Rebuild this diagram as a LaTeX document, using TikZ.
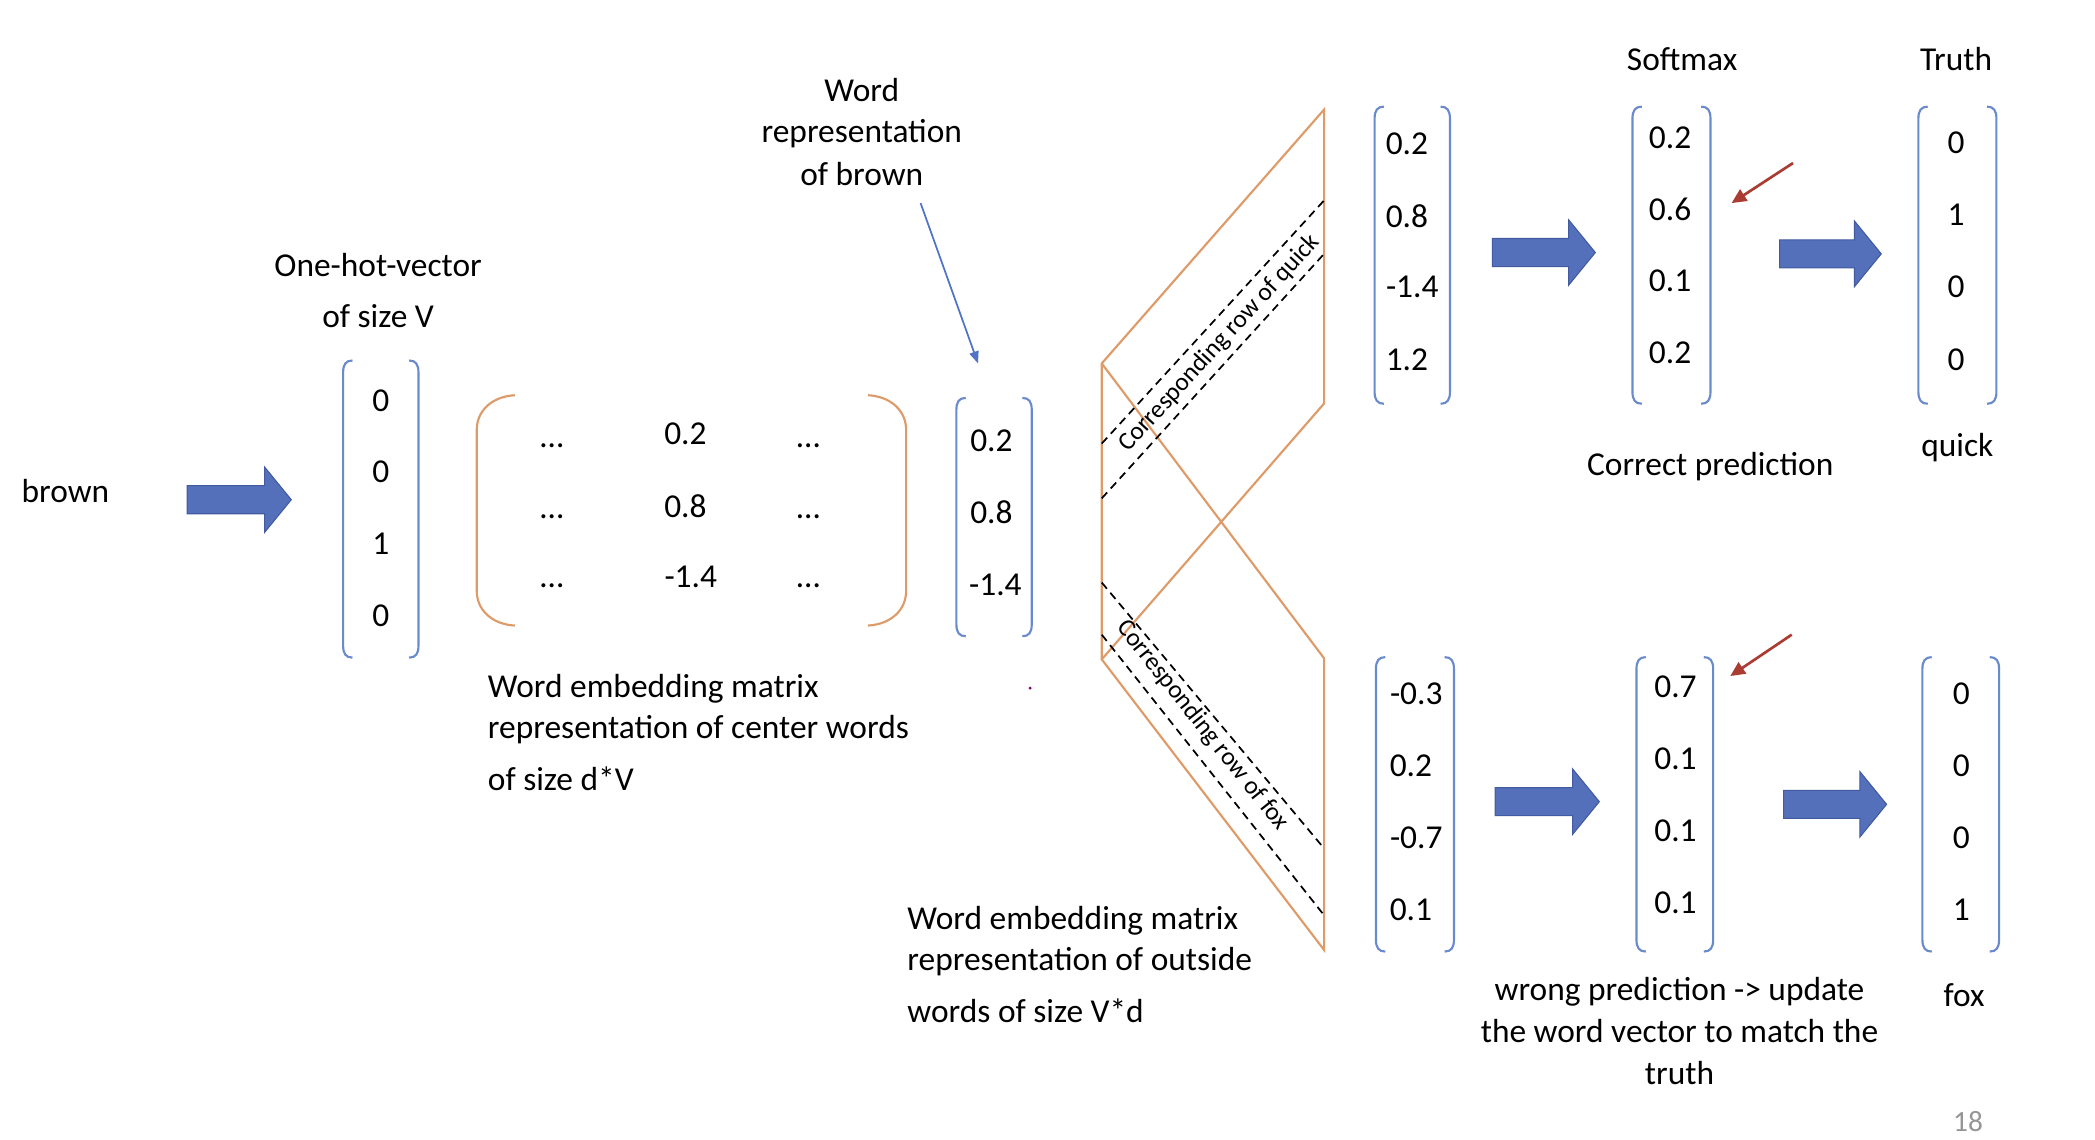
\documentclass[tikz,border=0pt]{standalone}
\usepackage{fontspec}
\setmainfont{Carlito}
\usetikzlibrary{arrows.meta,calc}
\definecolor{vecblue}{RGB}{106,138,206}
\definecolor{matorange}{RGB}{222,155,105}
\definecolor{arrfill}{RGB}{84,112,186}
\definecolor{arrdraw}{RGB}{65,90,160}
\definecolor{redarr}{RGB}{170,60,50}
\definecolor{linkblue}{RGB}{80,115,200}
\definecolor{pagegray}{RGB}{150,150,150}
\newcommand\VBrackets[1]{%
  \draw[vecline] ($(#1.north west)+(7,0)$) .. controls ($(#1.north west)+(2,0)$) and ($(#1.north west)+(0,3)$) .. ($(#1.north west)+(0,9)$)
    -- ($(#1.south west)+(0,-9)$) .. controls ($(#1.south west)+(0,-3)$) and ($(#1.south west)+(2,0)$) .. ($(#1.south west)+(7,0)$);
  \draw[vecline] ($(#1.north east)+(-7,0)$) .. controls ($(#1.north east)+(-2,0)$) and ($(#1.north east)+(0,3)$) .. ($(#1.north east)+(0,9)$)
    -- ($(#1.south east)+(0,-9)$) .. controls ($(#1.south east)+(0,-3)$) and ($(#1.south east)+(-2,0)$) .. ($(#1.south east)+(-7,0)$);}
\newcommand\BlockArrow[3]{%
  \filldraw[blockarrow] (#1,{#3-10.5}) -- ({#2-20},{#3-10.5}) -- ({#2-20},{#3-24.5}) -- (#2,#3)
    -- ({#2-20},{#3+24.5}) -- ({#2-20},{#3+10.5}) -- (#1,{#3+10.5}) -- cycle;}
\begin{document}
\begin{tikzpicture}[x=1pt,y=-1pt,
  every node/.style={font=\fontsize{25}{30}\selectfont, inner sep=0pt},
  vbox/.style={draw=none, minimum width=56, minimum height=222},
  vecline/.style={draw=vecblue, line width=1.6pt},
  matline/.style={draw=matorange, line width=1.6pt, line join=miter},
  dashline/.style={draw=black, line width=1.3pt, dash pattern=on 6pt off 4pt},
  blockarrow/.style={fill=arrfill, draw=arrdraw, line width=0.8pt},
  lbl/.style={anchor=base},
  lblw/.style={anchor=base west},
  rowlbl/.style={font=\fontsize{19}{22}\selectfont},
  linkarrow/.style={draw=linkblue, line width=1.3pt, -{Triangle[length=9pt,width=7pt]}},
  redarrow/.style={draw=redarr, line width=2pt, -{Triangle[length=11pt,width=10pt]}}]
\useasboundingbox (0,0) rectangle (1568,853);

% ---------- left part ----------
\node[lblw] (brown) at (16,376) {brown};
\BlockArrow{140}{218}{374}

\node[lbl] (ohA) at (283,207) {One-hot-vector};
\node[lbl] (ohB) at (283,245) {of size V};
\node[vbox] (oh) at (285,381) {};
\VBrackets{oh}
\node[lbl] (oh1) at (285,308) {0};
\node[lbl] (oh2) at (285,361) {0};
\node[lbl] (oh3) at (285,415) {1};
\node[lbl] (oh4) at (285,469) {0};

% ---------- center-word matrix ----------
\node[draw=none, minimum width=321, minimum height=172] (M) at (517.5,382) {};
\draw[matline] ($(M.north west)+(28.5,0)$) .. controls ($(M.north west)+(11,1)$) and ($(M.north west)+(0,12)$) .. ($(M.north west)+(0,26)$)
  -- ($(M.south west)+(0,-26)$) .. controls ($(M.south west)+(0,-12)$) and ($(M.south west)+(11,-1)$) .. ($(M.south west)+(28.5,0)$);
\draw[matline] ($(M.north east)+(-28.5,0)$) .. controls ($(M.north east)+(-11,1)$) and ($(M.north east)+(0,12)$) .. ($(M.north east)+(0,26)$)
  -- ($(M.south east)+(0,-26)$) .. controls ($(M.south east)+(0,-12)$) and ($(M.south east)+(-11,-1)$) .. ($(M.south east)+(-28.5,0)$);
\node[lbl] (m11) at (413,335) {…};
\node[lbl] (m21) at (413,388) {…};
\node[lbl] (m31) at (413,440) {…};
\node[lbl] (m12) at (513,333) {0.2};
\node[lbl] (m22) at (513,387) {0.8};
\node[lbl] (m32) at (517,440) {-1.4};
\node[lbl] (m13) at (605,335) {…};
\node[lbl] (m23) at (605,388) {…};
\node[lbl] (m33) at (605,440) {…};

\node[lblw] (ceA) at (365,522) {Word embedding matrix};
\node[lblw] (ceB) at (365,553) {representation of center words};
\node[lblw] (ceC) at (365,592) {of size d*V};

% ---------- word vector of brown ----------
\node[lbl] (wrA) at (645,76) {Word};
\node[lbl] (wrB) at (645,107) {representation};
\node[lbl] (wrC) at (645,139) {of brown};
\node[vbox, minimum height=178] (wv) at (744,387) {};
\VBrackets{wv}
\node[lbl] (wv1) at (742,338) {0.2};
\node[lbl] (wv2) at (742,392) {0.8};
\node[lbl] (wv3) at (745,446) {-1.4};
\coordinate (wrs) at (689,152);
\coordinate (wve) at (732,272);
\draw[linkarrow] (wrs) -- (wve);
\fill[violet] (771,515) circle (1.2pt);

% ---------- outside-word matrix ----------
\coordinate (PL) at (824.6,272);
\coordinate (PTR) at (991,82);
\coordinate (PRB) at (991,302);
\coordinate (PLB) at (824.6,493.5);
\coordinate (QTR) at (991,492.7);
\coordinate (QBR) at (991,711);
\draw[matline] (PLB) -- (PL) -- (PTR) -- (PRB) -- (PLB) -- (QBR) -- (QTR) -- (PL);

\coordinate (dq1a) at (824.6,332);
\coordinate (dq1b) at (991,150);
\coordinate (dq2a) at (824.6,373);
\coordinate (dq2b) at (991,190);
\draw[dashline] (dq1a) -- (dq1b);
\draw[dashline] (dq2a) -- (dq2b);
\node[rowlbl, rotate=47.5] (rq) at (913,257) {Corresponding row of quick};

\coordinate (df1a) at (824.6,436);
\coordinate (df1b) at (991,635);
\coordinate (df2a) at (824.6,475);
\coordinate (df2b) at (991,685);
\draw[dashline] (df1a) -- (df1b);
\draw[dashline] (df2a) -- (df2b);
\node[rowlbl, rotate=-51.5] (rf) at (900,543) {Corresponding row of fox};

\node[lblw] (owA) at (679,696) {Word embedding matrix};
\node[lblw] (owB) at (679,726) {representation of outside};
\node[lblw] (owC) at (679,765) {words of size V*d};

% ---------- upper row: quick ----------
\node[vbox] (u1) at (1057,191) {};
\VBrackets{u1}
\node[lbl] (u11) at (1053,116) {0.2};
\node[lbl] (u12) at (1053,170) {0.8};
\node[lbl] (u13) at (1057,223) {-1.4};
\node[lbl] (u14) at (1053,277) {1.2};
\BlockArrow{1117}{1194}{189}

\node[lbl] (smA) at (1259,53) {Softmax};
\node[vbox, minimum width=58] (us) at (1251,191) {};
\VBrackets{us}
\node[lbl] (us1) at (1250,111) {0.2};
\node[lbl] (us2) at (1250,165) {0.6};
\node[lbl] (us3) at (1250,218) {0.1};
\node[lbl] (us4) at (1250,272) {0.2};
\coordinate (ra1s) at (1342,122);
\coordinate (ra1e) at (1296,152);
\draw[redarrow] (ra1s) -- (ra1e);
\BlockArrow{1332}{1408}{190}

\node[lbl] (trA) at (1464,53) {Truth};
\node[vbox, minimum width=58] (ut) at (1465,191) {};
\VBrackets{ut}
\node[lbl] (ut1) at (1464,115) {0};
\node[lbl] (ut2) at (1464,169) {1};
\node[lbl] (ut3) at (1464,223) {0};
\node[lbl] (ut4) at (1464,277) {0};
\node[lbl] (quick) at (1465,342) {quick};
\node[lbl] (corr) at (1280,356) {Correct prediction};

% ---------- lower row: fox ----------
\node[vbox, minimum width=58, minimum height=220] (l1) at (1059,602) {};
\VBrackets{l1}
\node[lbl] (l11) at (1060,527) {-0.3};
\node[lbl] (l12) at (1056,581) {0.2};
\node[lbl] (l13) at (1060,635) {-0.7};
\node[lbl] (l14) at (1056,689) {0.1};
\BlockArrow{1119}{1197}{600}

\node[vbox, minimum width=57, minimum height=220] (ls) at (1253.5,602) {};
\VBrackets{ls}
\node[lbl] (ls1) at (1254,522) {0.7};
\node[lbl] (ls2) at (1254,576) {0.1};
\node[lbl] (ls3) at (1254,630) {0.1};
\node[lbl] (ls4) at (1254,684) {0.1};
\coordinate (ra2s) at (1341,475);
\coordinate (ra2e) at (1295,506);
\draw[redarrow] (ra2s) -- (ra2e);
\BlockArrow{1335}{1412}{602}

\node[vbox, minimum width=57, minimum height=220] (lt) at (1467.5,602) {};
\VBrackets{lt}
\node[lbl] (lt1) at (1468,527) {0};
\node[lbl] (lt2) at (1468,581) {0};
\node[lbl] (lt3) at (1468,635) {0};
\node[lbl] (lt4) at (1468,689) {1};
\node[lbl] (fox) at (1470,753) {fox};

\node[lbl] (wrA2) at (1257,749) {wrong prediction -> update};
\node[lbl] (wrB2) at (1257,780) {the word vector to match the};
\node[lbl] (wrC2) at (1257,812) {truth};

\node[lbl, text=pagegray, font=\fontsize{22}{26}\selectfont] (page) at (1473,847) {18};
\end{tikzpicture}
\end{document}
